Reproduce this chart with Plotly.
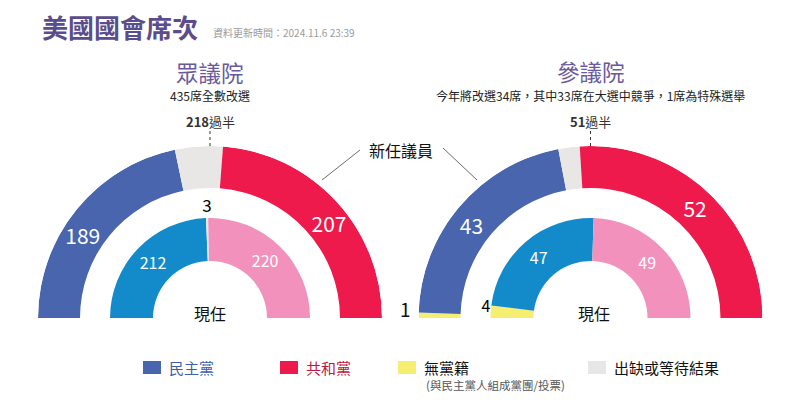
import numpy as np
import plotly.graph_objects as go

W, H = 800, 406
FONT = "Noto Sans CJK TC, Noto Sans, sans-serif"

# 眾議院 (outer ring = 新任議員, inner ring = 現任)
house_total = 435
house_majority = 218
house_new_parties = ["民主黨", "出缺或等待結果", "共和黨"]
house_new_seats = [189, 39, 207]
house_now_parties = ["民主黨", "出缺或等待結果", "共和黨"]
house_now_seats = [212, 3, 220]

# 參議院
senate_total = 100
senate_majority = 51
senate_new_parties = ["無黨籍", "民主黨", "出缺或等待結果", "共和黨"]
senate_new_seats = [1, 43, 4, 52]
senate_now_parties = ["無黨籍", "民主黨", "共和黨"]
senate_now_seats = [4, 47, 49]

legend_names = ["民主黨", "共和黨", "無黨籍", "出缺或等待結果"]

NEW_COLORS = {"民主黨": "#4865ad", "共和黨": "#ee1a4c", "無黨籍": "#f6ee70", "出缺或等待結果": "#e8e7e5"}
NOW_COLORS = {"民主黨": "#138bcb", "共和黨": "#f291bc", "無黨籍": "#f6ee70", "出缺或等待結果": "#e8e7e5"}

R = 172          # outer radius in px (radial axis runs 0..R)
CY = 318         # baseline of both half circles
HOUSE_CX = 210
SENATE_CX = 590.5


def px(x):
    return x / W


def py(y):
    return 1 - y / H


def ring(parties, seats, total, base, depth, colors, subplot, label_pos):
    seats = np.array(seats, dtype=float)
    width = seats * 180 / total
    theta = np.cumsum(width) - width / 2
    traces = [
        go.Barpolar(
            r=[depth] * len(seats),
            base=[base] * len(seats),
            theta=theta,
            width=width,
            marker=dict(color=[colors[p] for p in parties], line=dict(width=0)),
            customdata=parties,
            hovertemplate="%{customdata}: %{text}<extra></extra>",
            text=[int(s) for s in seats],
            subplot=subplot,
            showlegend=False,
        )
    ]
    # seat numbers
    rs, ths, txt, cols, sizes = [], [], [], [], []
    for s, pos in zip(seats, label_pos):
        if pos is None:
            continue
        r, th, col, size = pos
        rs.append(r)
        ths.append(th)
        txt.append(str(int(s)))
        cols.append(col)
        sizes.append(size)
    traces.append(
        go.Scatterpolar(
            r=rs,
            theta=ths,
            mode="text",
            text=txt,
            textfont=dict(color=cols, size=sizes, family=FONT),
            textposition="middle center",
            cliponaxis=False,
            hoverinfo="skip",
            subplot=subplot,
            showlegend=False,
        )
    )
    return traces


fig = go.Figure()

for t in ring(house_new_parties, house_new_seats, house_total, 130, 42, NEW_COLORS, "polar",
              [(150, 32, "white", 21), None, (150, 142.5, "white", 21)]):
    fig.add_trace(t)
for t in ring(house_now_parties, house_now_seats, house_total, 57, 43, NOW_COLORS, "polar",
              [(78, 43, "white", 16), (110, 88.4, "black", 17), (78, 135, "white", 16)]):
    fig.add_trace(t)
for t in ring(senate_new_parties, senate_new_seats, senate_total, 130, 42, NEW_COLORS, "polar2",
              [None, (149, 37, "white", 21), None, (149, 134.6, "white", 21)]):
    fig.add_trace(t)
for t in ring(senate_now_parties, senate_now_seats, senate_total, 57, 43, NOW_COLORS, "polar2",
              [(105, 5.5, "black", 16), (77.5, 48, "white", 16), (77.5, 137, "white", 16)]):
    fig.add_trace(t)


def polar_layout(cx):
    return dict(
        domain=dict(x=[px(cx - R), px(cx + R)], y=[py(CY), py(CY - R)]),
        sector=[0, 180],
        hole=0,
        bgcolor="rgba(0,0,0,0)",
        barmode="overlay",
        radialaxis=dict(range=[0, R], visible=False, showgrid=False),
        angularaxis=dict(rotation=180, direction="clockwise", visible=False, showgrid=False),
    )


annotations = []
shapes = []


def text(x, y, s, size, color="#222", xanchor="center"):
    annotations.append(dict(
        x=px(x), y=py(y), xref="paper", yref="paper", text=s, showarrow=False,
        xanchor=xanchor, yanchor="middle", font=dict(size=size, color=color, family=FONT),
    ))


# titles
text(40, 27, "<b>美國國會席次</b>", 26, "#5b4d8b", "left")
text(211, 33, "資料更新時間：2024.11.6 23:39", 10, "#9a9a9a", "left")
text(HOUSE_CX, 72, "眾議院", 22.5, "#6a5a9c")
text(HOUSE_CX, 96, "435席全數改選", 12, "#222")
text(SENATE_CX, 71, "參議院", 22.5, "#6a5a9c")
text(SENATE_CX, 96, "今年將改選34席，其中33席在大選中競爭，1席為特殊選舉", 12, "#222")

# majority markers
for cx, m in [(HOUSE_CX, house_majority), (SENATE_CX, senate_majority)]:
    text(cx, 122, f"<b>{m}</b>過半", 13, "#333")
    shapes.append(dict(type="line", xref="paper", yref="paper", x0=px(cx), x1=px(cx),
                       y0=py(131), y1=py(147), line=dict(color="#333", width=1, dash="dot")))

# senate independent seat sits outside the ring
text(406, 308, str(senate_new_seats[0]), 19, "#111")

text(401, 150, "新任議員", 16, "#111")
shapes.append(dict(type="line", xref="paper", yref="paper", x0=px(360), y0=py(150), x1=px(322), y1=py(180),
                   line=dict(color="#444", width=0.8)))
shapes.append(dict(type="line", xref="paper", yref="paper", x0=px(443), y0=py(148), x1=px(477), y1=py(180),
                   line=dict(color="#444", width=0.8)))

text(HOUSE_CX, 313, "現任", 16, "#111")
text(SENATE_CX + 3, 313, "現任", 16, "#111")

# legend
legend_x = [143, 280, 398, 588]
legend_text_color = {"民主黨": "#3f5ea8", "共和黨": "#c0163e", "無黨籍": "#111", "出缺或等待結果": "#111"}
for x, name in zip(legend_x, legend_names):
    shapes.append(dict(type="rect", xref="paper", yref="paper", x0=px(x), x1=px(x + 18),
                       y0=py(374), y1=py(361), fillcolor=NEW_COLORS[name], line=dict(width=0)))
    text(x + 24, 367, name, 15, legend_text_color[name], "left")
text(424, 385, "(與民主黨人組成黨團/投票)", 11.5, "#555", "left")

fig.update_layout(
    width=W,
    height=H,
    margin=dict(l=0, r=0, t=0, b=0),
    paper_bgcolor="#fff",
    plot_bgcolor="#fff",
    font=dict(family=FONT),
    polar=polar_layout(HOUSE_CX),
    polar2=polar_layout(SENATE_CX),
    annotations=annotations,
    shapes=shapes,
    showlegend=False,
)

fig.write_html("out.html", config={"displayModeBar": False},
               post_script="document.body.style.margin='0px';")
